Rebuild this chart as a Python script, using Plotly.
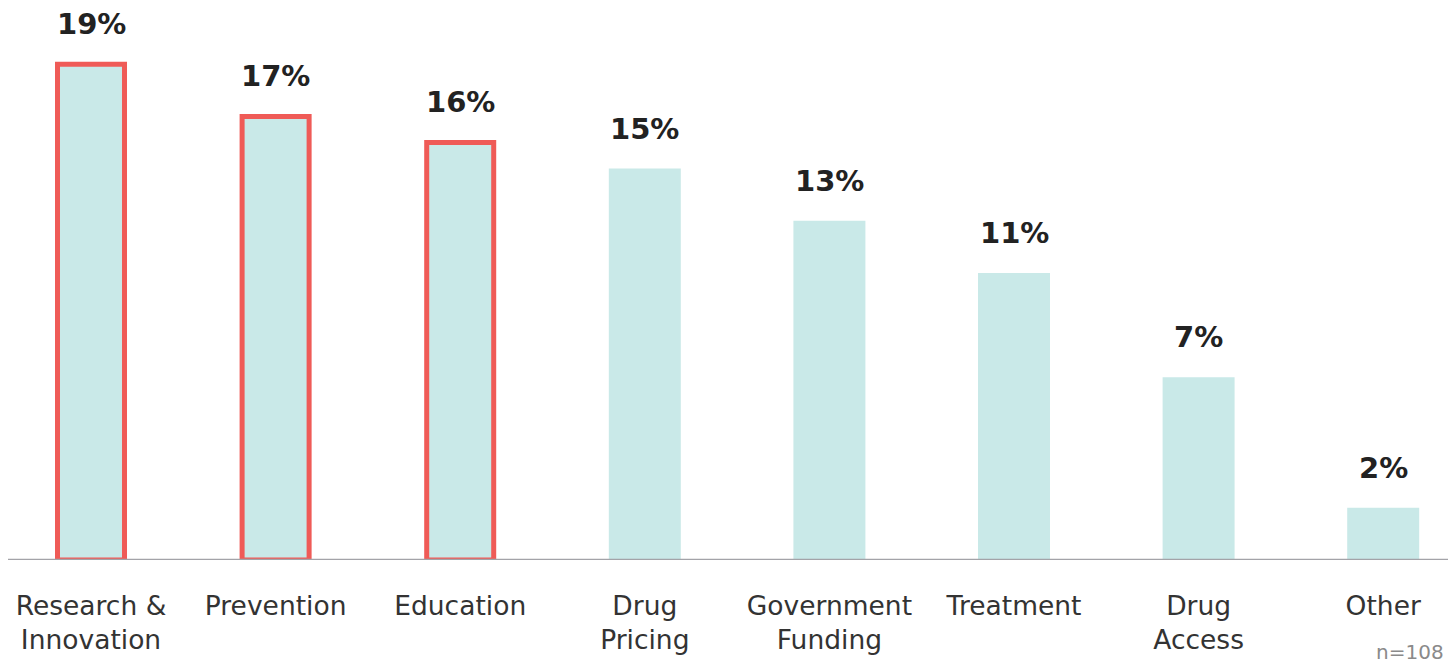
import plotly.graph_objects as go

categories = ["Research &<br>Innovation", "Prevention", "Education", "Drug<br>Pricing",
              "Government<br>Funding", "Treatment", "Drug<br>Access", "Other"]
values = [19, 17, 16, 15, 13, 11, 7, 2]
labels = ["19%", "17%", "16%", "15%", "13%", "11%", "7%", "2%"]
highlight = [True, True, True, False, False, False, False, False]

FONT = "DejaVu Sans, Verdana, sans-serif"
fill = "#c9e9e8"
red = "#ef5b57"

x = list(range(len(categories)))
widths = [0.363 if h else 0.39 for h in highlight]
line_w = [5 if h else 0 for h in highlight]

fig = go.Figure()
fig.add_trace(go.Bar(
    x=x, y=values, width=widths,
    marker=dict(color=fill, line=dict(color=[red if h else fill for h in highlight], width=line_w)),
    hoverinfo="skip",
))

for xi, v, lab in zip(x, values, labels):
    fig.add_annotation(x=xi, y=v, text="<b>" + lab + "</b>", showarrow=False,
                       yanchor="bottom", yshift=21,
                       font=dict(family=FONT, size=29, color="#222222"))

fig.add_shape(type="line", xref="paper", yref="y", x0=8/1448, x1=1, y0=0, y1=0,
              line=dict(color="#a3a3a8", width=2.5))

fig.add_annotation(xref="paper", yref="paper", x=1, y=0, xanchor="right", yanchor="bottom",
                   text="n=108", showarrow=False, yshift=-106, xshift=-2,
                   font=dict(family=FONT, size=20, color="#8a8a8a"))

fig.update_layout(
    width=1448, height=668,
    margin=dict(l=0, r=0, t=0, b=108),
    plot_bgcolor="white", paper_bgcolor="white",
    showlegend=False,
    xaxis=dict(range=[-0.493, 7.351], tickmode="array", tickvals=x, ticktext=categories,
               showgrid=False, zeroline=False, showline=False, ticks="",
               tickfont=dict(family=FONT, size=26.5, color="#333333"),
               ticklabelstandoff=27),
    yaxis=dict(range=[0, 21.46], visible=False),
)

fig.write_html("out.html")
